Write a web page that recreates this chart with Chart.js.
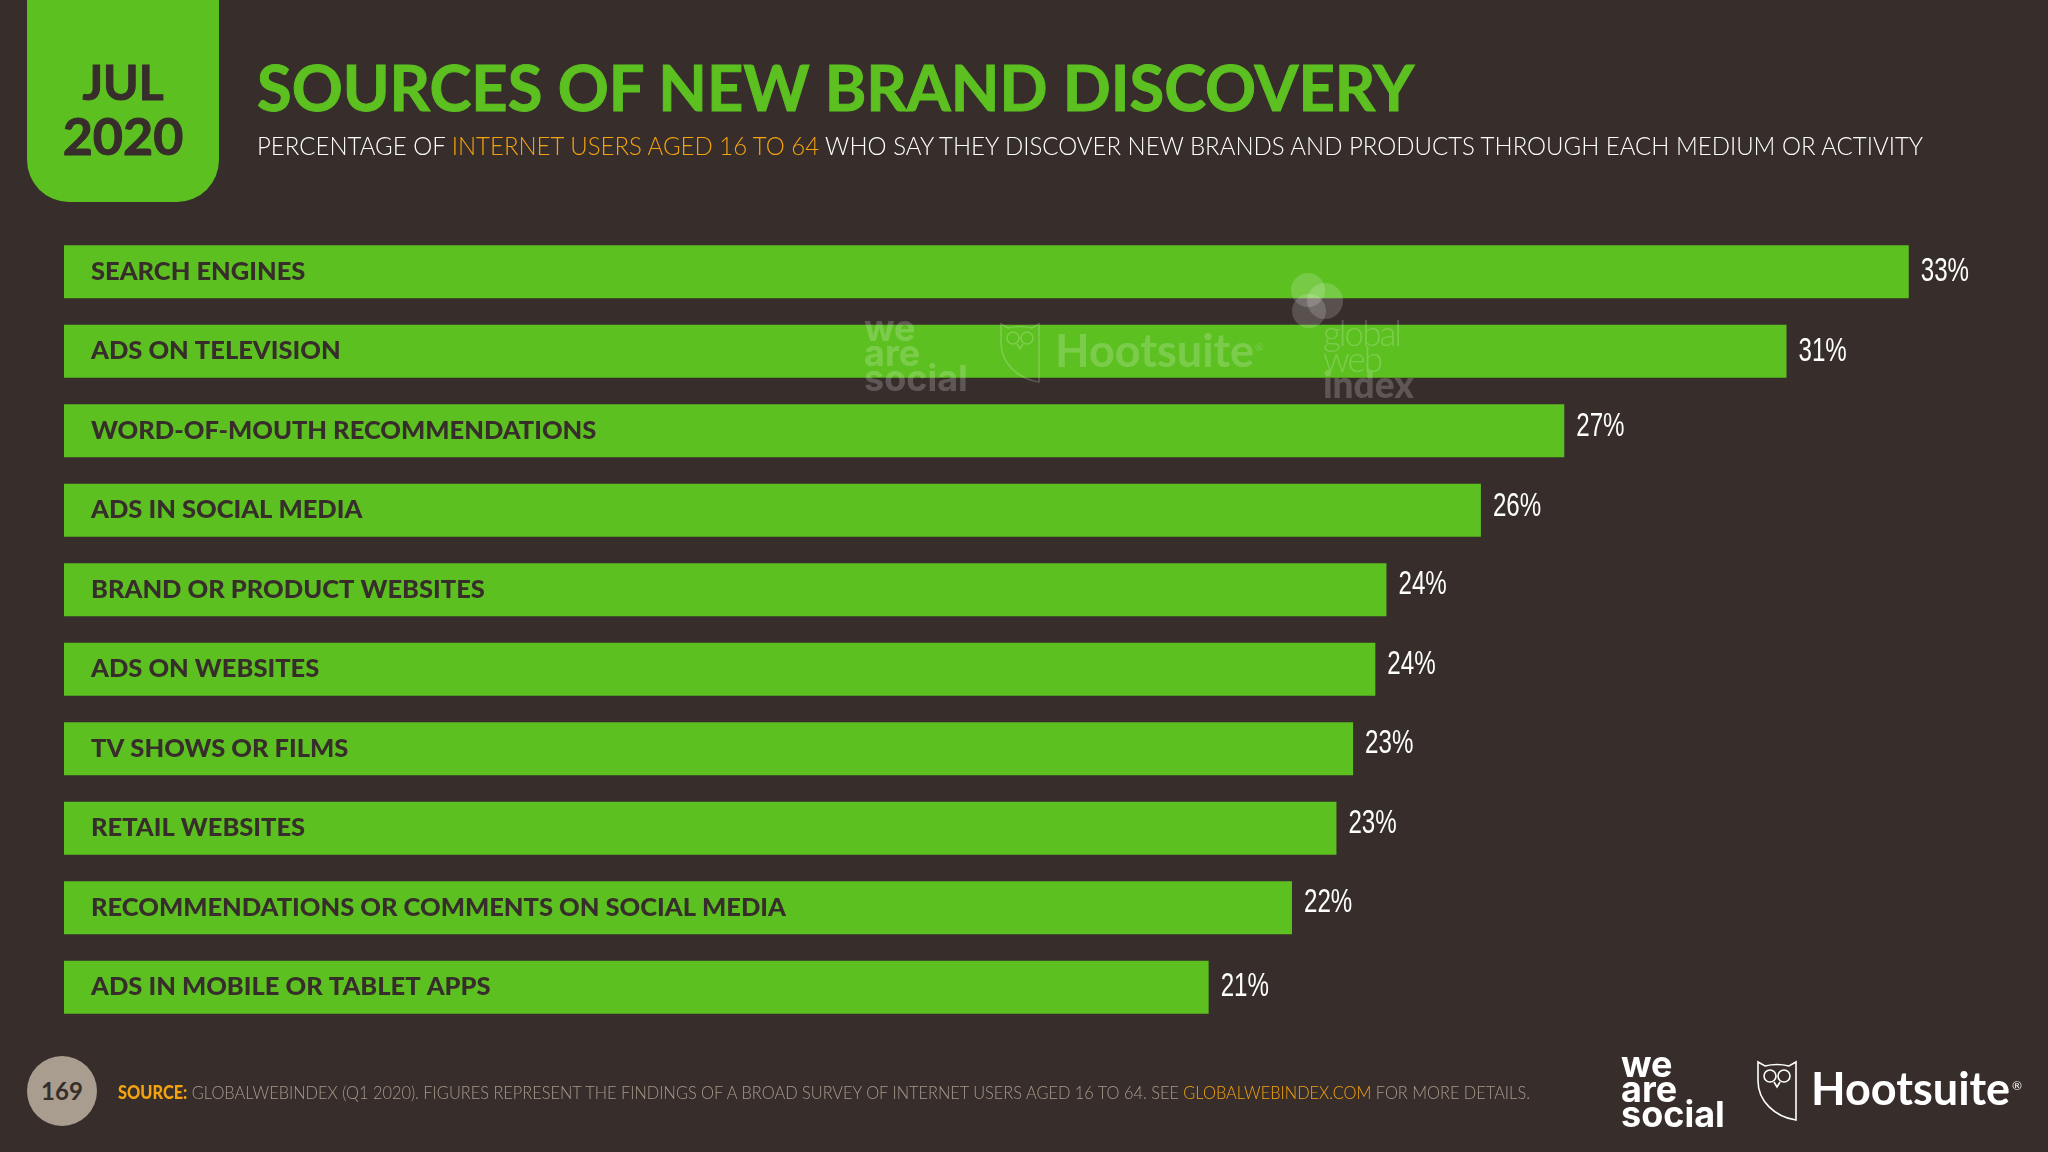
<!DOCTYPE html>
<html>
<head>
<meta charset="utf-8">
<title>Sources of new brand discovery</title>
<script src="https://cdn.jsdelivr.net/npm/chart.js@4/dist/chart.umd.min.js"></script>
<style>
  html, body { margin: 0; background: #372e2b; }
  #page { position: relative; width: 2048px; height: 1152px; overflow: hidden; font-family: Lato, sans-serif; }
  #page canvas { position: absolute; left: 0; top: 0; }
  .t { position: absolute; white-space: nowrap; line-height: 1; }
  .hl { color: #f5a20f; }
  #tab { position: absolute; left: 27px; top: -40px; width: 192px; height: 242px; background: #5cc020; border-radius: 42px; }
  #title { left: 257px; top: 55px; font-size: 64px; font-weight: 700; color: #5cc020; -webkit-text-stroke: 1px #5cc020; transform: scaleX(0.987); transform-origin: left; }
  #subtitle { left: 257px; top: 132px; font-size: 26px; font-weight: 300; color: #fff; transform: scaleX(0.923); transform-origin: left; }
  #month { left: 27px; width: 192px; text-align: center; top: 58px; font-size: 48px; font-weight: 700; color: #372e2b; -webkit-text-stroke: 1px #372e2b; }
  #year { left: 27px; width: 192px; text-align: center; top: 109px; font-size: 52px; font-weight: 700; color: #372e2b; -webkit-text-stroke: 1px #372e2b; }
  #pageno { position: absolute; left: 27px; top: 1056px; width: 70px; height: 70px; border-radius: 50%; background: #a89d8e; color: #372e2b; font-weight: 700; font-size: 24px; line-height: 70px; text-align: center; }
  #source { left: 118px; top: 1083px; font-size: 18px; font-weight: 300; color: #a59b8c; transform: scaleX(0.909); transform-origin: left; }
  #source b { color: #f5a20f; font-weight: 900; }
  .was { position: absolute; font-family: Inter, sans-serif; font-weight: 700; font-size: 36px; line-height: 25px; color: #fff; white-space: pre; }
  .hoot { position: absolute; font-weight: 700; font-size: 45px; line-height: 1; color: #fff; white-space: nowrap; }
  .mark { opacity: 0.2; }
  .gwi { position: absolute; left: 1323px; top: 319px; width: 100px; font-size: 35px; line-height: 26px; color: #fff; font-weight: 300; letter-spacing: -2px; }
  .gwi b { font-size: 37px; font-weight: 900; letter-spacing: 0; }
  svg { position: absolute; overflow: visible; }
</style>
</head>
<body>
<div id="page">
  <canvas id="chart" width="2048" height="1152"></canvas>
  <div id="tab"></div>
  <div class="t" id="month">JUL</div>
  <div class="t" id="year">2020</div>
  <div class="t" id="title">SOURCES OF NEW BRAND DISCOVERY</div>
  <div class="t" id="subtitle">PERCENTAGE OF <span class="hl">INTERNET USERS AGED 16 TO 64</span> WHO SAY THEY DISCOVER NEW BRANDS AND PRODUCTS THROUGH EACH MEDIUM OR ACTIVITY</div>

  <!-- watermark across the first bars -->
  <svg style="left:0;top:0" width="2048" height="400">
    <circle cx="1308" cy="290" r="17" fill="#fff" fill-opacity="0.17"/>
    <circle cx="1325" cy="301" r="18" fill="#fff" fill-opacity="0.17"/>
    <circle cx="1309" cy="311" r="17" fill="#fff" fill-opacity="0.17"/>
  </svg>
  <div class="mark">
    <div class="was" style="left:864px;top:316px;">we
are
social</div>
    <svg style="left:1000px;top:323px" width="40" height="60" viewBox="0 0 40 60"><use href="#owl"/></svg>
    <div class="hoot" style="left:1055px;top:328px;">Hootsuite</div>
    <div class="t" style="left:1255px;top:342px;font-size:10px;color:#fff;">®</div>
    <div class="gwi">global<br>web<br><b>index</b></div>
  </div>

  <div id="pageno">169</div>
  <div class="t" id="source"><b>SOURCE:</b> GLOBALWEBINDEX (Q1 2020). FIGURES REPRESENT THE FINDINGS OF A BROAD SURVEY OF INTERNET USERS AGED 16 TO 64. SEE <span class="hl">GLOBALWEBINDEX.COM</span> FOR MORE DETAILS.</div>

  <div class="was" style="left:1621px;top:1052px;">we
are
social</div>
  <svg style="left:1757px;top:1061px" width="40" height="60" viewBox="0 0 40 60">
    <defs>
      <g id="owl" fill="none" stroke="#fff" stroke-width="1.6">
        <path d="M1 1 L8 5 Q20 2 32 5 L39 1 V59 C18 56 1 40 1 20 Z"/>
        <circle cx="13" cy="15" r="6"/>
        <circle cx="27" cy="15" r="6"/>
        <path d="M17 21 L20 26 L23 21"/>
      </g>
    </defs>
    <use href="#owl"/>
  </svg>
  <div class="hoot" style="left:1811px;top:1066px;">Hootsuite</div>
  <div class="t" style="left:2012px;top:1080px;font-size:12px;color:#fff;">®</div>
</div>

<script>
// values, the slide rounds them for the labels
var categories = [
  'SEARCH ENGINES',
  'ADS ON TELEVISION',
  'WORD-OF-MOUTH RECOMMENDATIONS',
  'ADS IN SOCIAL MEDIA',
  'BRAND OR PRODUCT WEBSITES',
  'ADS ON WEBSITES',
  'TV SHOWS OR FILMS',
  'RETAIL WEBSITES',
  'RECOMMENDATIONS OR COMMENTS ON SOCIAL MEDIA',
  'ADS IN MOBILE OR TABLET APPS'
];
var shares = [33.2, 31.0, 27.0, 25.5, 23.8, 23.6, 23.2, 22.9, 22.1, 20.6];

var DARK = '#372e2b';
var GREEN = '#5cc020';

// the percent labels sit slightly above the bar centre further down the slide
var labelLift = [0, 0, 4, 4, 5, 5, 5, 5, 5, 1];

var valueLabels = {
  id: 'valueLabels',
  afterDatasetsDraw: function(chart) {
    var ctx = chart.ctx;
    var bars = chart.getDatasetMeta(0).data;
    ctx.save();
    ctx.fillStyle = '#fff';
    ctx.font = '34px "Liberation Sans"';
    ctx.textAlign = 'left';
    ctx.textBaseline = 'middle';
    bars.forEach(function(bar, i) {
      // no condensed face installed, so squeeze the regular one
      ctx.save();
      ctx.translate(bar.x + 12, bar.y - labelLift[i]);
      ctx.scale(0.71, 1);
      ctx.fillText(Math.round(shares[i]) + '%', 0, 0);
      ctx.restore();
    });
    ctx.restore();
  }
};

new Chart(document.getElementById('chart'), {
  type: 'bar',
  data: {
    labels: categories,
    datasets: [{ data: shares, backgroundColor: GREEN, borderWidth: 0, barPercentage: 0.666, categoryPercentage: 1 }]
  },
  options: {
    indexAxis: 'y',
    responsive: false,
    animation: false,
    devicePixelRatio: 1,
    layout: { padding: { left: 64, right: 67, top: 232, bottom: 125 } },
    plugins: { legend: { display: false }, tooltip: { enabled: false } },
    scales: {
      x: { display: false, min: 0, max: 34.5 },
      y: {
        afterFit: function(scale) { scale.width = 0; },
        grid: { display: false },
        border: { display: false },
        ticks: { mirror: true, z: 1, padding: 27, autoSkip: false, color: DARK, font: { family: 'Lato', weight: '900', size: 25.5 } }
      }
    }
  },
  plugins: [valueLabels]
});
</script>
</body>
</html>
